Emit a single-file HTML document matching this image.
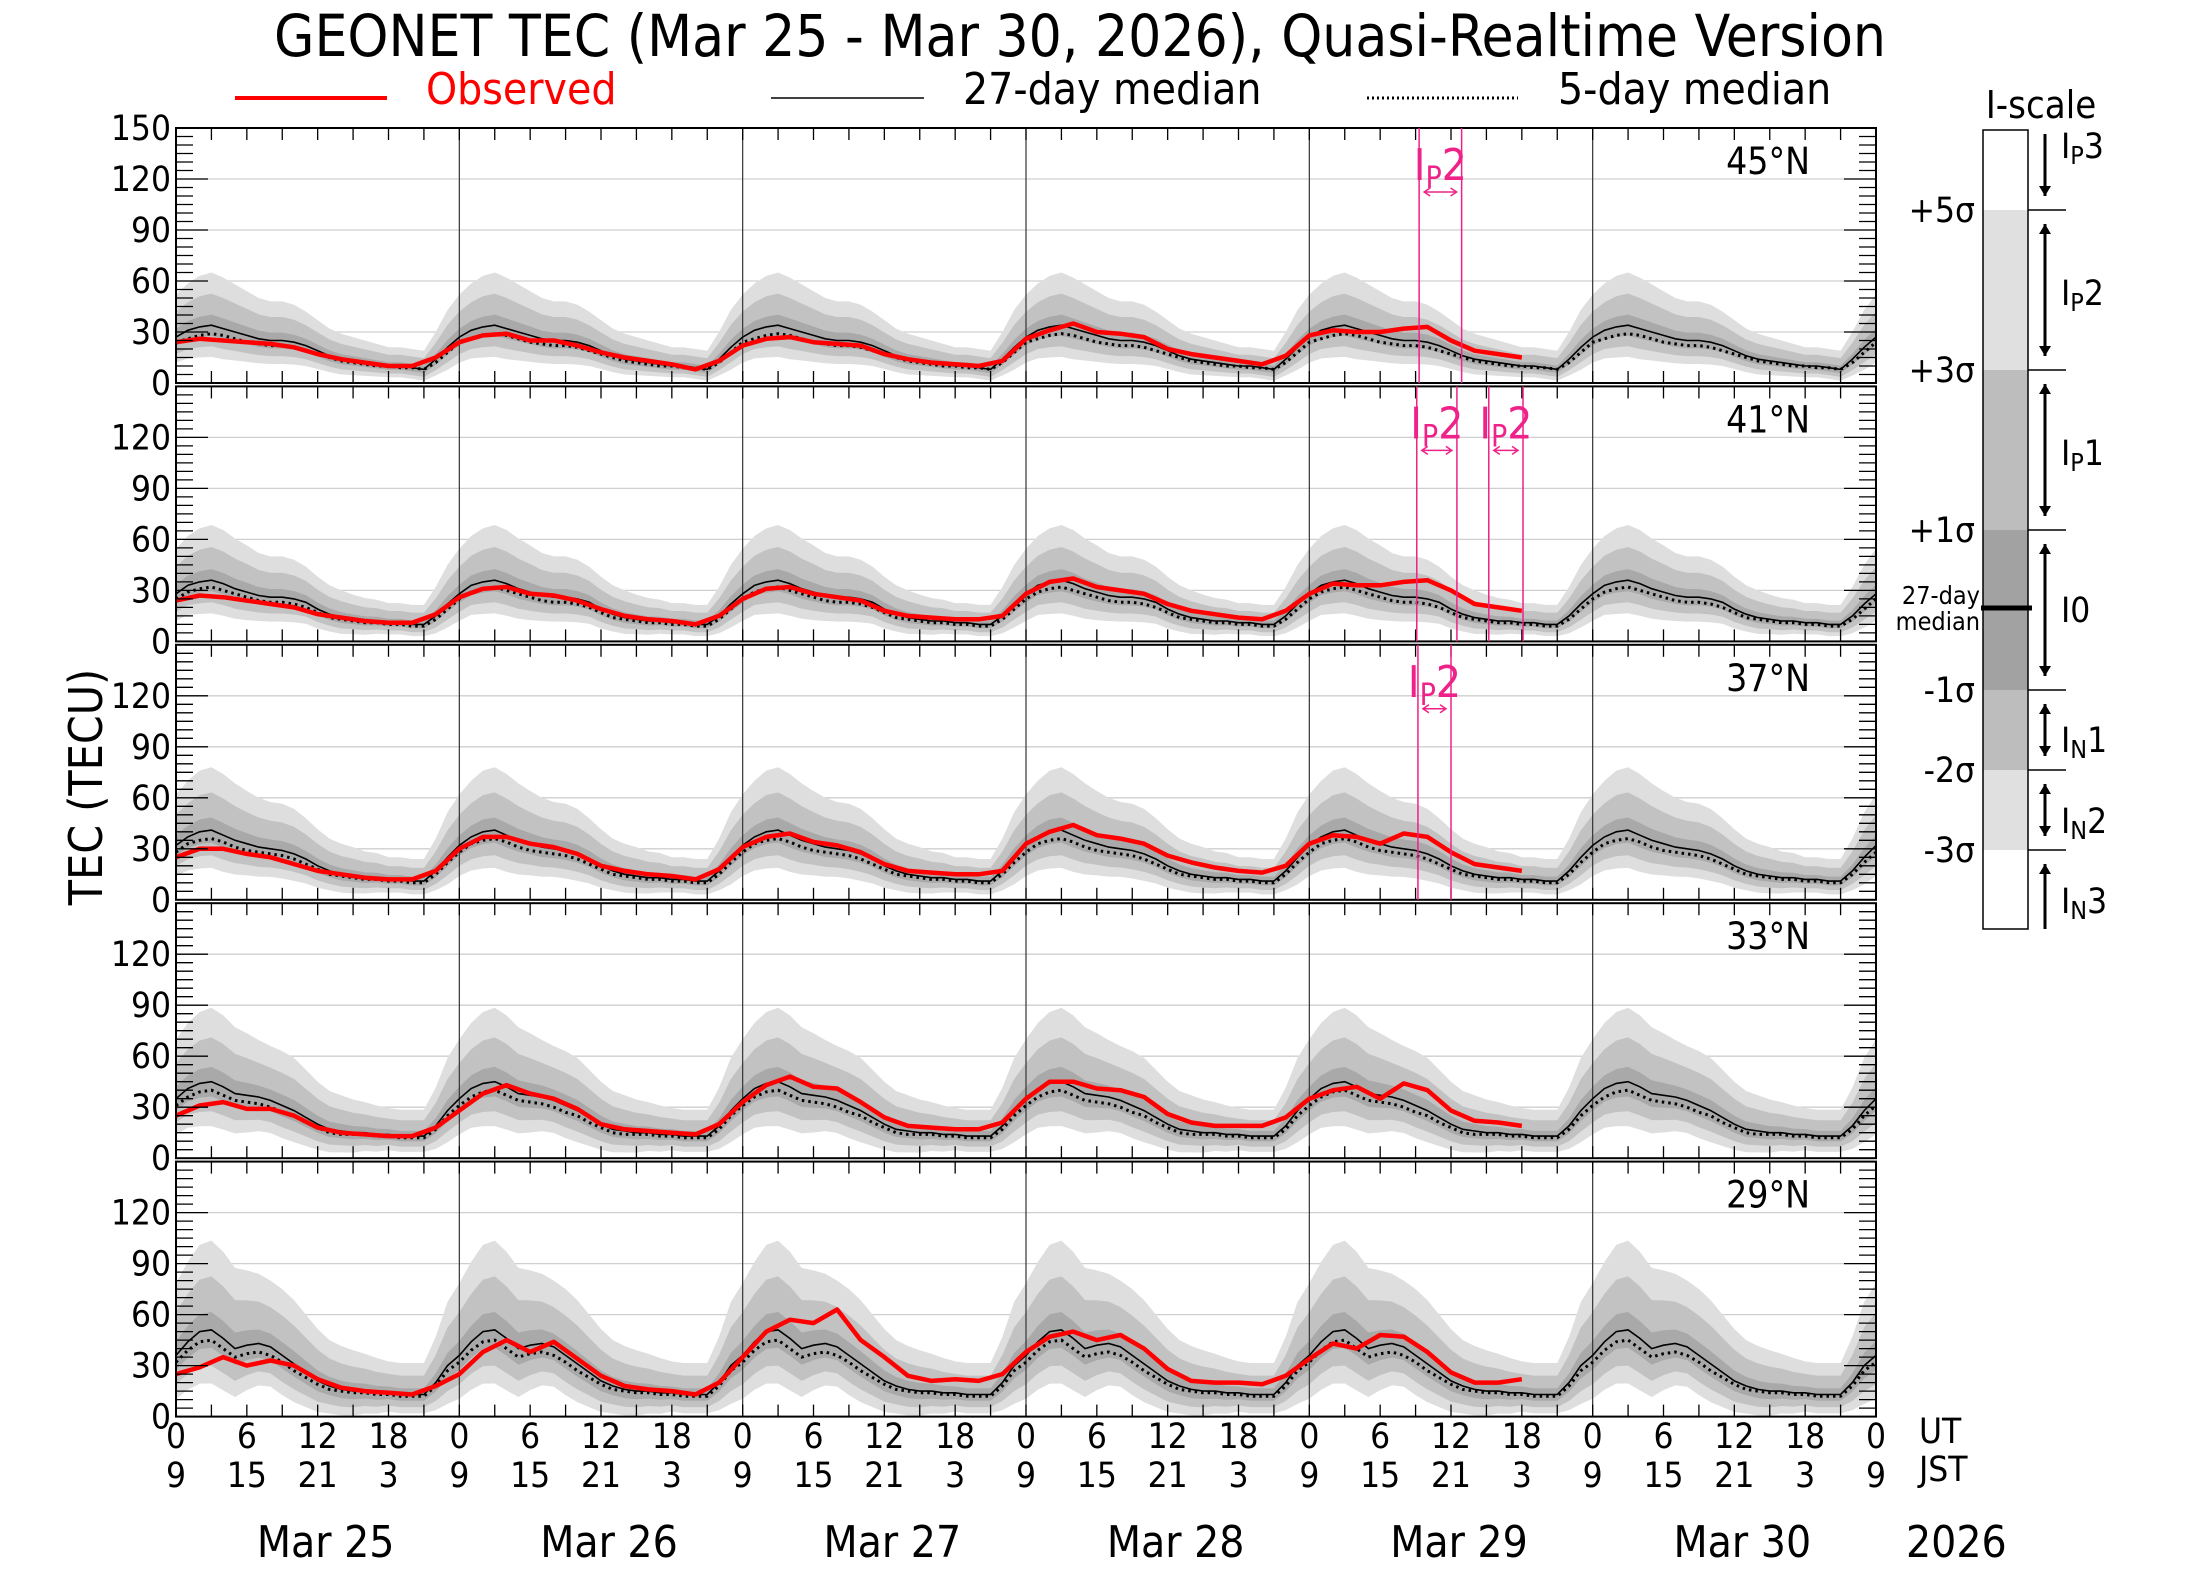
<!DOCTYPE html>
<html><head><meta charset="utf-8"><style>
html,body{margin:0;padding:0;background:#fff}
svg{display:block;font-family:"DejaVu Sans Condensed","DejaVu Sans","Liberation Sans",sans-serif}
</style></head><body>
<svg id="chart" width="2203" height="1572" viewBox="0 0 2203 1572" xmlns="http://www.w3.org/2000/svg">
<text x="1080" y="56" font-size="58" text-anchor="middle">GEONET TEC (Mar 25 - Mar 30, 2026), Quasi-Realtime Version</text>
<g>
<line x1="235" y1="98" x2="387" y2="98" stroke="#f00" stroke-width="4"/>
<text x="426" y="104" font-size="44" fill="#f00">Observed</text>
<line x1="771" y1="98" x2="924" y2="98" stroke="#000" stroke-width="1.5"/>
<text x="963" y="104" font-size="44">27-day median</text>
<line x1="1367" y1="98" x2="1518" y2="98" stroke="#000" stroke-width="3" stroke-dasharray="2,3"/>
<text x="1558" y="104" font-size="44">5-day median</text>
</g>
<text transform="translate(102,787) rotate(-90)" font-size="46" text-anchor="middle">TEC (TECU)</text>
<g id="plots"></g>
<g id="iscale"></g>
</svg>
<script>
const latLabels = ["45°N","41°N","37°N","33°N","29°N"];
const median27 = [
 [27,31,33,34,32,30,28,26,25,25,24,22,19,16,14,13,12,11,10,10,9,8,14,21],
 [28,33,35,36,34,31,29,27,26,26,25,23,19,16,14,13,12,12,11,11,10,10,15,22],
 [32,37,40,41,38,35,33,31,30,29,27,24,20,17,15,14,13,13,12,12,11,11,17,25],
 [35,41,44,45,42,38,37,36,34,31,28,24,20,17,16,15,15,14,14,13,13,13,19,28],
 [36,44,50,51,46,40,42,43,41,36,31,26,21,18,16,15,15,14,14,13,13,13,20,30]];
const median5 = [
 [24,26,28,29,28,26,24,23,22,22,21,19,17,15,13,12,11,10,10,9,9,8,12,18],
 [25,29,31,32,30,28,26,24,23,23,22,20,17,14,13,12,11,11,10,10,9,9,13,19],
 [28,33,35,36,34,31,29,28,27,26,24,21,18,15,14,13,12,12,11,11,10,10,15,22],
 [31,36,39,40,37,34,33,32,30,27,25,21,18,15,14,14,14,13,13,12,12,12,17,25],
 [32,39,44,45,40,35,37,38,36,32,27,23,19,16,15,14,14,13,13,12,12,12,18,27]];
const sigma = [
 [5,5.5,6,6.2,6,5.6,5.2,4.8,4.6,4.6,4.4,4,3.6,3.2,3,2.8,2.6,2.4,2.2,2.2,2.2,2.2,3.2,4.4],
 [5.3,5.8,6.3,6.5,6.3,5.9,5.5,5,4.8,4.8,4.6,4.2,3.8,3.4,3.2,2.9,2.7,2.5,2.3,2.3,2.3,2.3,3.4,4.6],
 [6,6.6,7.2,7.4,7.2,6.7,6.2,5.8,5.5,5.5,5.3,4.8,4.3,3.8,3.6,3.4,3.1,2.9,2.6,2.6,2.6,2.6,3.8,5.3],
 [7,7.7,8.4,8.7,8.4,7.8,7.3,6.7,6.4,6.4,6.2,5.6,5,4.5,4.2,3.9,3.6,3.4,3.1,3.1,3.1,3.1,4.5,6.2],
 [8.5,9.4,10.2,10.5,10.2,9.5,8.8,8.2,7.8,7.8,7.5,6.8,6.1,5.4,5.1,4.8,4.4,4.1,3.7,3.7,3.7,3.7,5.4,7.5]];
// observed, every 2 hours from 0 UT Mar 25
const observed = [
 [24,26,25,24,23,21,17,14,12,10,10,15, 24,28,29,25,25,22,18,15,13,11,8,13, 22,26,27,24,23,22,17,14,12,11,10,13, 26,31,35,30,29,27,20,17,15,13,11,16, 28,31,30,30,32,33,25,19,17,15],
 [24,27,26,24,22,20,16,14,12,11,11,16, 26,31,32,28,27,24,19,15,13,12,10,15, 25,31,32,28,26,24,18,15,14,13,13,15, 28,35,37,32,30,28,22,18,16,14,13,18, 28,34,33,33,35,36,30,22,20,18],
 [25,30,30,27,25,21,17,15,13,12,12,17, 30,37,37,33,31,27,20,17,15,14,12,18, 31,37,39,34,32,28,21,17,16,15,15,17, 33,40,44,38,36,33,26,22,19,17,16,20, 33,38,37,33,39,37,28,21,19,17],
 [25,31,33,29,29,25,18,15,14,13,13,18, 28,38,43,38,35,29,20,17,16,15,14,20, 33,43,48,42,41,33,24,19,18,17,17,21, 35,45,45,41,40,36,26,21,19,19,19,24, 35,40,42,35,44,40,28,22,21,19],
 [25,29,35,30,33,30,22,17,15,14,13,18, 25,38,45,38,44,34,24,18,16,15,13,20, 35,50,57,55,63,45,35,24,21,22,21,25, 38,47,50,45,48,40,28,21,20,20,19,24, 34,43,40,48,47,38,26,20,20,22]];
const obsStep = 2;
const eventPanel = [0,1,1,2];
const eventStart = [105.3,105.1,111.2,105.2];
const eventEnd = [108.9,108.5,114.1,108.0];
const utLabels = ["0","6","12","18"];
const jstLabels = ["9","15","21","3"];
const dayLabels = ["Mar 25","Mar 26","Mar 27","Mar 28","Mar 29","Mar 30"];
const yTicks = [0,30,60,90,120,150];

const NS="http://www.w3.org/2000/svg";
const X0=176, X1=1876, PH=255, YMAX=150;
const xs = h => X0 + h*(X1-X0)/144;
const panelTop = p => 128 + p*258.4;
const ys = (v,p) => panelTop(p) + PH - v*PH/YMAX;
function mk(tag, attrs, parent){const e=document.createElementNS(NS,tag);for(const k in attrs)e.setAttribute(k,attrs[k]);parent.appendChild(e);return e;}
const plots=document.getElementById('plots');

for(let p=0;p<5;p++){
  const g=mk('g',{},plots);
  
  
  const T=panelTop(p);
  for(const v of [30,60,90,120]){
    const l=mk('line',{x1:X0,x2:X1,y1:ys(v,p),y2:ys(v,p),stroke:'#cfcfcf','stroke-width':1.3},g);
    
    
  }
  const bands=[[-3,5,'#dedede'],[-2,3,'#c2c2c2'],[-1,1,'#a9a9a9']];
  for(const [lo,hi,col] of bands){
    let up=[],dn=[];
    for(let h=0;h<=144;h++){const i=h%24;up.push(xs(h)+','+ys(median27[p][i]+hi*sigma[p][i],p));dn.push(xs(h)+','+ys(Math.max(0,median27[p][i]+lo*sigma[p][i]),p));}
    const poly=mk('polygon',{points:up.concat(dn.reverse()).join(' '),fill:col},g);
    
    
  }
  for(let d=1;d<6;d++){
    const l=mk('line',{x1:xs(d*24),x2:xs(d*24),y1:T,y2:T+PH,stroke:'#333','stroke-width':1.2},g);
    
    
  }
  let m27=[],m5=[];
  for(let h=0;h<=144;h++){const i=h%24;m27.push(xs(h)+','+ys(median27[p][i],p));m5.push(xs(h)+','+ys(median5[p][i],p));}
  const l27=mk('polyline',{points:m27.join(' '),fill:'none',stroke:'#000','stroke-width':1.6},g);
  
  
  const l5=mk('polyline',{points:m5.join(' '),fill:'none',stroke:'#000','stroke-width':3,'stroke-dasharray':'2.5,4'},g);
  
  
  const ob=observed[p].map((v,i)=>xs(i*obsStep)+','+ys(v,p));
  const lo=mk('polyline',{points:ob.join(' '),fill:'none',stroke:'#f00','stroke-width':4.5,'stroke-linejoin':'round'},g);
  
  
  const fr=mk('rect',{x:X0,y:T,width:X1-X0,height:PH,fill:'none',stroke:'#000','stroke-width':2},g);
  
  
  for(let v=0;v<=150;v+=5){
    const len=(v%30===0)?32:17;
    mk('line',{x1:X0,x2:X0+len,y1:ys(v,p),y2:ys(v,p),stroke:'#000','stroke-width':1.3},g);
    mk('line',{x1:X1-len,x2:X1,y1:ys(v,p),y2:ys(v,p),stroke:'#000','stroke-width':1.3},g);
  }
  for(const v of yTicks){
    if(v===150 && p>0) continue;
    const t=mk('text',{x:X0-5,y:ys(v,p)+12,'font-size':35,'text-anchor':'end'},g);
    t.textContent=v;
    
    
  }
  for(let h=3;h<144;h+=3){
    mk('line',{x1:xs(h),x2:xs(h),y1:T,y2:T+12,stroke:'#000','stroke-width':1.3},g);
    mk('line',{x1:xs(h),x2:xs(h),y1:T+PH-12,y2:T+PH,stroke:'#000','stroke-width':1.3},g);
  }
  const lt=mk('text',{x:1810,y:T+46,'font-size':37,'text-anchor':'end'},g);
  lt.textContent=latLabels[p];
  
  
}
for(let k=0;k<eventPanel.length;k++){
  const p=eventPanel[k],T=panelTop(p),a=xs(eventStart[k]),b=xs(eventEnd[k]);
  const g=mk('g',{stroke:'#ee2288',fill:'#ee2288'},plots);
  
  
  mk('line',{x1:a,x2:a,y1:T,y2:T+PH,'stroke-width':1.5},g);
  mk('line',{x1:b,x2:b,y1:T,y2:T+PH,'stroke-width':1.5},g);
  const ay=T+64;
  mk('line',{x1:a+5,x2:b-5,y1:ay,y2:ay,'stroke-width':1.5},g);
  mk('polyline',{points:`${a+11},${ay-4} ${a+5},${ay} ${a+11},${ay+4}`,fill:'none','stroke-width':1.5},g);
  mk('polyline',{points:`${b-11},${ay-4} ${b-5},${ay} ${b-11},${ay+4}`,fill:'none','stroke-width':1.5},g);
  const t=mk('text',{x:(a+b)/2,y:T+52,'font-size':44,'text-anchor':'middle',stroke:'none'},g);
  t.innerHTML='I<tspan font-size="30" dy="8">P</tspan><tspan dy="-8">2</tspan>';
}
const ax=mk('g',{},plots);


for(let d=0;d<=6;d++){
  for(let j=0;j<4;j++){
    if(d===6&&j>0)break;
    const h=d*24+j*6;
    const t1=mk('text',{x:xs(h),y:1448,'font-size':35,'text-anchor':'middle'},ax);
    t1.textContent=utLabels[j];
    
    
    const t2=mk('text',{x:xs(h),y:1487,'font-size':35,'text-anchor':'middle'},ax);
    t2.textContent=jstLabels[j];
    
    
  }
}
dayLabels.forEach((s,d)=>{
  const t=mk('text',{x:xs(d*24+12)+8,y:1557,'font-size':44,'text-anchor':'middle'},ax);
  t.textContent=s;
  
  
});
[['UT',1443],['JST',1481]].forEach(([s,y])=>{const t=mk('text',{x:1919,y:y,'font-size':35},ax);t.textContent=s;
  
  });
{const t=mk('text',{x:1906,y:1557,'font-size':44},ax);t.textContent='2026';

}

const isg=document.getElementById('iscale');
const BX=1983,BW=45;
const segs=[[130,210,'#fff'],[210,370,'#e0e0e0'],[370,530,'#bdbdbd'],[530,690,'#a2a2a2'],[690,770,'#bdbdbd'],[770,850,'#e0e0e0'],[850,929,'#fff']];
segs.forEach(([a,b,c])=>mk('rect',{x:BX,y:a,width:BW,height:b-a,fill:c},isg));
mk('rect',{x:BX,y:130,width:BW,height:799,fill:'none',stroke:'#000','stroke-width':1.5},isg);
mk('line',{x1:BX-2,x2:BX+BW+4,y1:608,y2:608,stroke:'#000','stroke-width':5},isg);
[210,370,530,690,770,850].forEach(y=>mk('line',{x1:BX+BW,x2:2066,y1:y,y2:y,stroke:'#000','stroke-width':1.5},isg));
const sl=[['+5σ',210],['+3σ',370],['+1σ',530],['-1σ',690],['-2σ',770],['-3σ',850]];
sl.forEach(([s,y])=>{const t=mk('text',{x:1975,y:y+12,'font-size':35,'text-anchor':'end'},isg);t.textContent=s;});
{const t=mk('text',{x:2041,y:118,'font-size':38,'text-anchor':'middle'},isg);t.textContent='I-scale';}
{const t=mk('text',{x:1980,y:604,'font-size':25,'text-anchor':'end'},isg);t.textContent='27-day';
 const t2=mk('text',{x:1980,y:630,'font-size':25,'text-anchor':'end'},isg);t2.textContent='median';}
function arrow(y1,y2,up,down){
  mk('line',{x1:2045,x2:2045,y1:y1,y2:y2,stroke:'#000','stroke-width':3},isg);
  if(up)mk('polygon',{points:`2039,${y1+10} 2045,${y1} 2051,${y1+10}`,fill:'#000'},isg);
  if(down)mk('polygon',{points:`2039,${y2-10} 2045,${y2} 2051,${y2-10}`,fill:'#000'},isg);
}
arrow(134,196,false,true);arrow(224,356,true,true);arrow(384,516,true,true);arrow(544,676,true,true);
arrow(704,756,true,true);arrow(784,836,true,true);arrow(864,929,true,false);
const il=[['P','3',158],['P','2',305],['P','1',465],['','0',622],['N','1',752],['N','2',833],['N','3',913]];
il.forEach(([sub,n,y])=>{const t=mk('text',{x:2061,y:y,'font-size':35},isg);
 t.innerHTML= sub?`I<tspan font-size="25" dy="6">${sub}</tspan><tspan dy="-6">${n}</tspan>`:'I0';});
</script>
</body></html>
